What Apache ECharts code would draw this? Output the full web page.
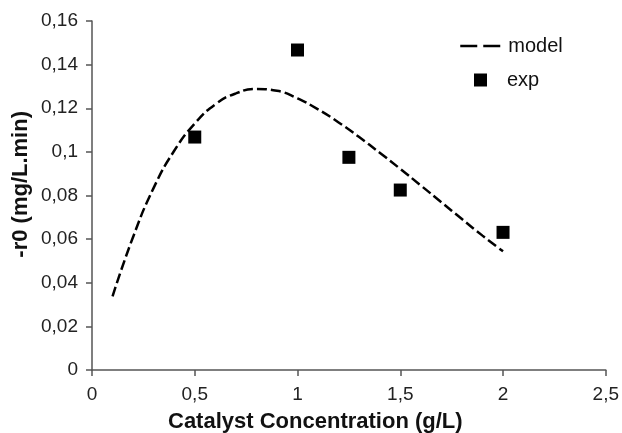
<!DOCTYPE html>
<html>
<head>
<meta charset="utf-8">
<script src="https://cdn.jsdelivr.net/npm/echarts@6/dist/echarts.min.js"></script>
<style>html,body{margin:0;padding:0;background:#fff}#c{width:622px;height:433px}</style>
</head>
<body>
<div id="c"></div>
<script>
// Model curve
const modelX = [0.1, 0.2, 0.3, 0.4, 0.5, 0.6, 0.7, 0.8, 0.9, 1.0, 1.1, 1.2, 1.3, 1.4, 1.5, 1.6, 1.7, 1.8, 1.9, 2.0];
const modelY = [0.0338, 0.0610, 0.0835, 0.1005, 0.1130, 0.1218, 0.1268, 0.1288, 0.1280, 0.1245, 0.1195, 0.1135, 0.1068, 0.0996, 0.0922, 0.0846, 0.0769, 0.0692, 0.0616, 0.0544];
// Experimental points
const expX = [0.5, 1.0, 1.25, 1.5, 2.0];
const expY = [0.1068, 0.1467, 0.0975, 0.0825, 0.0631];
const xTitle = 'Catalyst Concentration (g/L)';
const yTitle = '-r0 (mg/L.min)';

const fmt = v => String(+(+v).toFixed(3)).replace('.', ',');
const font = '"Liberation Sans", Arial, sans-serif';

const chart = echarts.init(document.getElementById('c'), null, {renderer: 'canvas'});
chart.setOption({
  animation: false,
  backgroundColor: '#fff',
  grid: {left: 92, right: 13, top: 21, bottom: 63, containLabel: false},
  xAxis: {
    type: 'value', min: 0, max: 2.5, interval: 0.5,
    axisLine: {lineStyle: {color: '#555', width: 1.5}},
    axisTick: {show: true, length: 6, lineStyle: {color: '#555', width: 1.5}},
    splitLine: {show: false},
    axisLabel: {formatter: fmt, color: '#222', fontSize: 19, fontFamily: font, margin: 15}
  },
  yAxis: {
    type: 'value', min: 0, max: 0.16, interval: 0.02,
    axisLine: {show: true, lineStyle: {color: '#555', width: 1.5}},
    axisTick: {show: true, length: 6, lineStyle: {color: '#555', width: 1.5}},
    splitLine: {show: false},
    axisLabel: {formatter: fmt, color: '#222', fontSize: 19, fontFamily: font, margin: 14}
  },
  legend: [
    {data: ['model'], orient: 'vertical', left: 454, top: 31, itemWidth: 43, itemHeight: 14,
     itemStyle: {opacity: 0},
     lineStyle: {type: [17, 6], width: 2.5, color: '#000'},
     textStyle: {fontSize: 20, fontFamily: font, color: '#111'}},
    {data: [{name: 'exp', icon: 'rect'}], orient: 'vertical', left: 469, top: 65, itemWidth: 13, itemHeight: 13,
     itemStyle: {color: '#000', opacity: 1},
     textStyle: {fontSize: 20, fontFamily: font, color: '#111', padding: [0, 0, 0, 15]}}
  ],
  graphic: [
    {type: 'text', left: 168, top: 411, style: {text: xTitle, font: 'bold 22px ' + font, fill: '#111'}},
    {type: 'text', rotation: Math.PI / 2, left: 10, top: 111,
     style: {text: yTitle, font: 'bold 22px ' + font, fill: '#111'}}
  ],
  series: [
    {name: 'model', type: 'line', smooth: true, symbol: 'none',
     data: modelX.map((x, i) => [x, modelY[i]]),
     lineStyle: {color: '#000', width: 2.5, type: [10, 4]}, itemStyle: {color: '#000'}},
    {name: 'exp', type: 'scatter', symbol: 'rect', symbolSize: 13,
     data: expX.map((x, i) => [x, expY[i]]),
     itemStyle: {color: '#000', opacity: 1}}
  ]
});
</script>
</body>
</html>
